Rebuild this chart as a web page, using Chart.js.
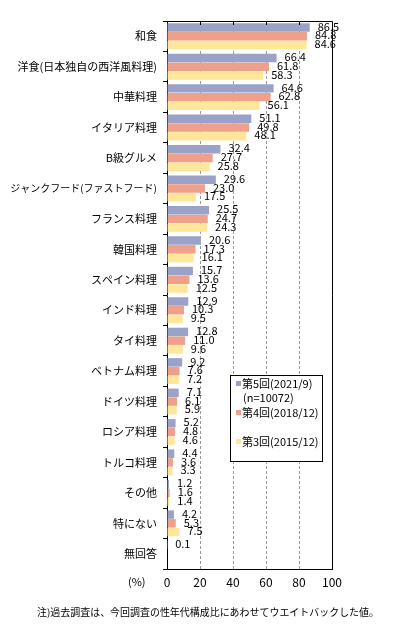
<!DOCTYPE html>
<html>
<head>
<meta charset="utf-8">
<script src="https://cdn.jsdelivr.net/npm/chart.js@4"></script>
<style>
  html, body { margin: 0; padding: 0; background: #fff; }
  #wrap { width: 393px; height: 638px; position: relative; }
</style>
</head>
<body>
<div id="wrap"><canvas id="foodChart" width="393" height="638"></canvas></div>
<script>
const categories = [
  "和食", "洋食(日本独自の西洋風料理)", "中華料理", "イタリア料理", "B級グルメ",
  "ジャンクフード(ファストフード)", "フランス料理", "韓国料理", "スペイン料理",
  "インド料理", "タイ料理", "ベトナム料理", "ドイツ料理", "ロシア料理",
  "トルコ料理", "その他", "特にない", "無回答"
];
const round5 = [86.5, 66.4, 64.6, 51.1, 32.4, 29.6, 25.5, 20.6, 15.7, 12.9, 12.8, 9.2, 7.1, 5.2, 4.4, 1.2, 4.2, 0.1];
const round4 = [84.8, 61.8, 62.8, 49.8, 27.7, 23.0, 24.7, 17.3, 13.6, 10.3, 11.0, 7.6, 6.1, 4.8, 3.6, 1.6, 5.3, null];
const round3 = [84.6, 58.3, 56.1, 48.1, 25.8, 17.5, 24.3, 16.1, 12.5, 9.5, 9.6, 7.2, 5.9, 4.6, 3.3, 1.4, 7.5, null];
const xTicks = [0, 20, 40, 60, 80, 100];
const seriesNames = ["第5回(2021/9)", "第4回(2018/12)", "第3回(2015/12)"];
const sampleNote = "(n=10072)";
const unitLabel = "(%)";
const footNote = "注)過去調査は、今回調査の性年代構成比にあわせてウエイトバックした値。";

const COLORS = ["#9aa2c8", "#eea08a", "#fee79a"];
const FONT = "'Noto Sans CJK JP', 'Noto Sans', sans-serif";

// value labels at the bar ends
const valueLabels = {
  id: "valueLabels",
  afterDatasetsDraw(chart) {
    const ctx = chart.ctx;
    ctx.save();
    ctx.font = "11px " + FONT;
    ctx.fillStyle = "#000";
    ctx.textBaseline = "middle";
    ctx.textAlign = "left";
    chart.data.datasets.forEach((ds, i) => {
      chart.getDatasetMeta(i).data.forEach((bar, j) => {
        const v = ds.data[j];
        if (v === null) return;
        ctx.fillText(v.toFixed(1), bar.x + 8, bar.y - 1);
      });
    });
    ctx.restore();
  }
};

// top/right frame, top ticks, legend box, unit and note
const extras = {
  id: "extras",
  afterDraw(chart) {
    const ctx = chart.ctx;
    const a = chart.chartArea;
    const xs = chart.scales.x;
    ctx.save();
    ctx.strokeStyle = "#000";
    ctx.lineWidth = 1;
    ctx.beginPath();
    ctx.moveTo(a.left, a.top + 0.5);
    ctx.lineTo(a.right + 0.5, a.top + 0.5);
    ctx.lineTo(a.right + 0.5, a.bottom);
    xTicks.slice(1, -1).forEach(t => {
      const px = Math.round(xs.getPixelForValue(t)) + 0.5;
      ctx.moveTo(px, a.top);
      ctx.lineTo(px, a.top + 4);
    });
    ctx.stroke();

    // legend
    const lx = 230, ly = 375, lw = 92, lh = 86;
    ctx.fillStyle = "#fff";
    ctx.fillRect(lx, ly, lw, lh);
    ctx.strokeRect(lx + 0.5, ly + 0.5, lw, lh);
    ctx.font = "11px " + FONT;
    ctx.textBaseline = "middle";
    ctx.textAlign = "left";
    const rows = [[0, 384], [1, 413], [2, 442]];
    rows.forEach(([i, y]) => {
      ctx.fillStyle = COLORS[i];
      ctx.fillRect(lx + 6, y - 3, 5, 5);
      ctx.fillStyle = "#000";
      ctx.fillText(seriesNames[i], lx + 12, y, 78);
    });
    ctx.fillText(sampleNote, lx + 13, 398);

    // unit + footnote
    ctx.fillText(unitLabel, 128, 582);
    ctx.font = "10px " + FONT;
    ctx.fillText(footNote, 37, 612, 342);
    ctx.restore();
  }
};

const ctx = document.getElementById("foodChart").getContext("2d");
const chart = new Chart(ctx, {
  type: "bar",
  data: {
    labels: categories,
    datasets: [
      { label: seriesNames[0], data: round5, backgroundColor: COLORS[0] },
      { label: seriesNames[1], data: round4, backgroundColor: COLORS[1] },
      { label: seriesNames[2], data: round3, backgroundColor: COLORS[2] },
    ]
  },
  options: {
    indexAxis: "y",
    responsive: false,
    animation: false,
    events: [],
    layout: { padding: { top: 21, right: 61, left: 0, bottom: 0 } },
    datasets: { bar: { categoryPercentage: 0.86, barPercentage: 0.97 } },
    plugins: { legend: { display: false }, tooltip: { enabled: false } },
    scales: {
      x: {
        min: 0, max: 100,
        afterBuildTicks: (s) => { s.ticks = xTicks.map(v => ({ value: v })); },
        afterFit: (s) => { s.height = 69; },
        ticks: { color: "#000", font: { size: 12, family: FONT }, padding: 6 },
        grid: {
          drawTicks: false,
          color: (c) => (c.tick && (c.tick.value === 0 || c.tick.value === 100)) ? "rgba(0,0,0,0)" : "#9a9a9a",
        },
        border: { color: "#000", dash: [3, 2] }
      },
      y: {
        afterFit: (s) => { s.width = 167; },
        ticks: {
          color: "#000",
          // the long katakana label needs a slightly smaller size to fit
          font: (c) => ({ size: categories[c.index] && categories[c.index].length > 14 ? 10 : 11, family: FONT }),
          padding: 6, autoSkip: false
        },
        grid: { drawOnChartArea: false, tickLength: 4, color: "#000", offset: true },
        border: { color: "#000" }
      }
    }
  },
  plugins: [valueLabels, extras]
});
</script>
</body>
</html>
